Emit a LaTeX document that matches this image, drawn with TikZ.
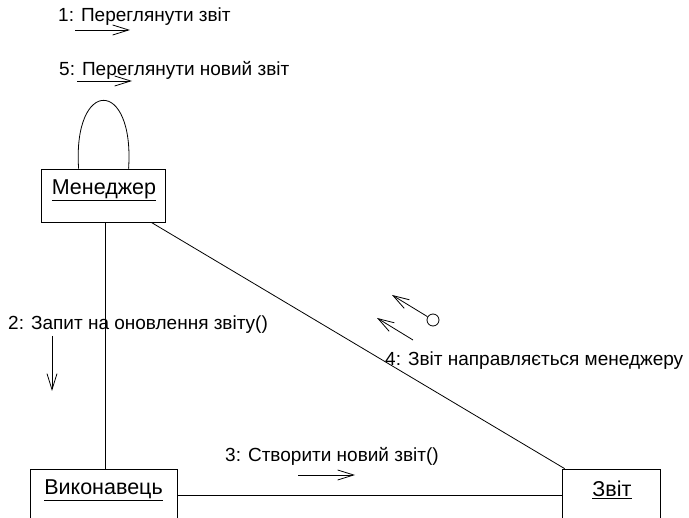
\documentclass[tikz,border=0pt]{standalone}
\usepackage{fontspec}
\setmainfont{Liberation Sans}
\usetikzlibrary{arrows.meta,calc}
\begin{document}
\begin{tikzpicture}[x=1pt,y=-1pt,
 obj/.style={draw,rectangle,minimum height=53pt,inner sep=0pt,line width=0.8pt},
 lbl/.style={anchor=west,inner sep=0pt,font=\fontsize{19}{21}\selectfont},
 nm/.style={inner sep=0pt,font=\fontsize{21.5}{24}\selectfont},
 msg/.style={-{Straight Barb[length=16pt,width=10pt,line width=0.8pt]},line width=0.8pt},
 link/.style={line width=0.8pt}]
\clip (0,0) rectangle (689,518);
\fill[white] (0,0) rectangle (689,518);
% objects
\node[obj,minimum width=124pt] (m) at (103,195.5) {};
\node[obj,minimum width=147pt] (v) at (103.5,495.5) {};
\node[obj,minimum width=98pt] (z) at (611,495.5) {};
\node[nm] (mt) at (104,190) {\underline{Менеджер}};
\node[nm] (vt) at (103.5,490) {\underline{Виконавець}};
\node[nm] (zt) at (612,490) {\underline{Звіт}};
% links
\draw[link] (m.south -| 105,0) -- (v.north -| 105,0);
\draw[link] ($(m.south west)!0.887!(m.south east)$) -- ($(z.north west)+(3,0)$);
\draw[link] (v.east) -- (z.west);
\coordinate (la) at ($(m.north west)+(38,0)$);
\coordinate (lb) at ($(m.north west)+(88,0)$);
\draw[link] (la) .. controls +(-6,-91) and +(6,-91) .. (lb);
% labels
\node[lbl] (l1) at (58,17) {1: Переглянути звіт};
\node[lbl] (l5) at (59,70) {5: Переглянути новий звіт};
\node[lbl] (l2) at (8,325) {2: Запит на оновлення звіту()};
\node[lbl] (l3) at (225,456) {3: Створити новий звіт()};
\node[lbl] (l4) at (385,361) {4: Звіт направляється менеджеру};
% message arrows
\coordinate (a1s) at (75,30); \coordinate (a1e) at (130,30);
\draw[msg] (a1s) -- (a1e);
\coordinate (a5s) at (77,81); \coordinate (a5e) at (132,81);
\draw[msg] (a5s) -- (a5e);
\coordinate (a2s) at (52,336); \coordinate (a2e) at (52,391);
\draw[msg] (a2s) -- (a2e);
\coordinate (a3s) at (298,475); \coordinate (a3e) at (355,475);
\draw[msg] (a3s) -- (a3e);
\node[draw,circle,minimum size=12pt,inner sep=0pt,line width=0.8pt] (c4) at (433,320) {};
\coordinate (a4e) at (392,295);
\draw[msg] (c4) -- (a4e);
\coordinate (a6s) at (413,340); \coordinate (a6e) at (377,318);
\draw[msg] (a6s) -- (a6e);
\end{tikzpicture}
\end{document}
